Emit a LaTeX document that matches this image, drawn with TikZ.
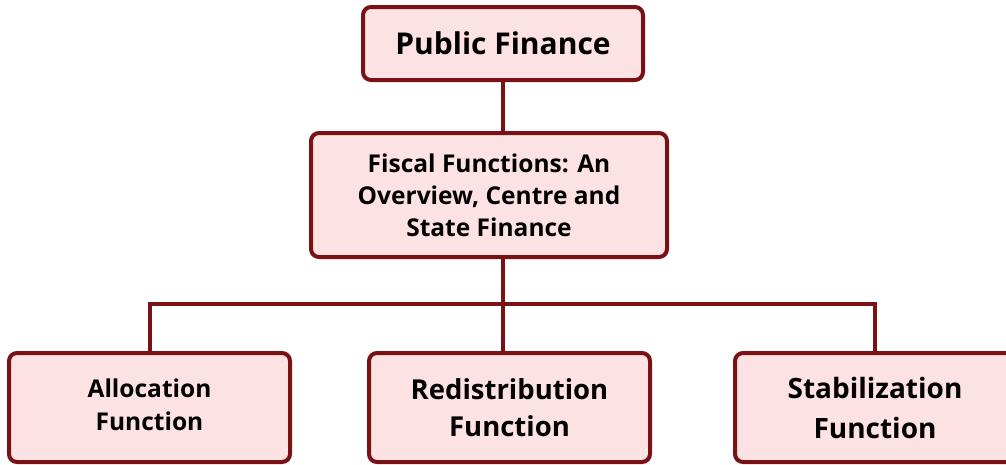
\documentclass[tikz,border=0pt]{standalone}
\usepackage{fontspec}
\setmainfont{Open Sans}
\definecolor{bordred}{RGB}{122,17,20}
\definecolor{boxpink}{RGB}{253,226,228}
\begin{document}
\begin{tikzpicture}[x=1pt,y=-1pt,
  box/.style={draw=bordred, fill=boxpink, line width=4pt, rounded corners=8pt,
    inner sep=0pt, align=center, font=\bfseries},
  link/.style={draw=bordred, line width=4pt}]
\useasboundingbox (0,0) rectangle (1006,464);
\node[box, minimum width=280pt, minimum height=73pt, font=\fontsize{30}{34}\bfseries\selectfont] (pf) at (503,43.5) {Public Finance};
\node[box, minimum width=356pt, minimum height=124pt, font=\fontsize{24.5}{32}\bfseries\selectfont] (ff) at (489,195) {Fiscal Functions: An\\Overview, Centre and\\State Finance};
\node[box, minimum width=281pt, minimum height=109pt, font=\fontsize{24.5}{33}\bfseries\selectfont] (af) at (149.5,407.5) {\raisebox{7pt}{\begin{tabular}{@{}c@{}}Allocation\\Function\end{tabular}}};
\node[box, minimum width=281pt, minimum height=109pt, font=\fontsize{27.5}{37}\bfseries\selectfont] (rf) at (509.5,407.5) {Redistribution\\Function};
\node[box, minimum width=280pt, minimum height=109pt, font=\fontsize{28}{40}\bfseries\selectfont] (sf) at (875,407.5) {Stabilization\\Function};
\coordinate (j) at (503,304);
\draw[link] (pf.south) -- (pf.south |- ff.north);
\draw[link] (ff.south -| pf.south) -- (j) -- (j |- rf.north);
\draw[link] (af.north) -- (af.north |- j) -- (sf.north |- j) -- (sf.north);
\end{tikzpicture}
\end{document}
